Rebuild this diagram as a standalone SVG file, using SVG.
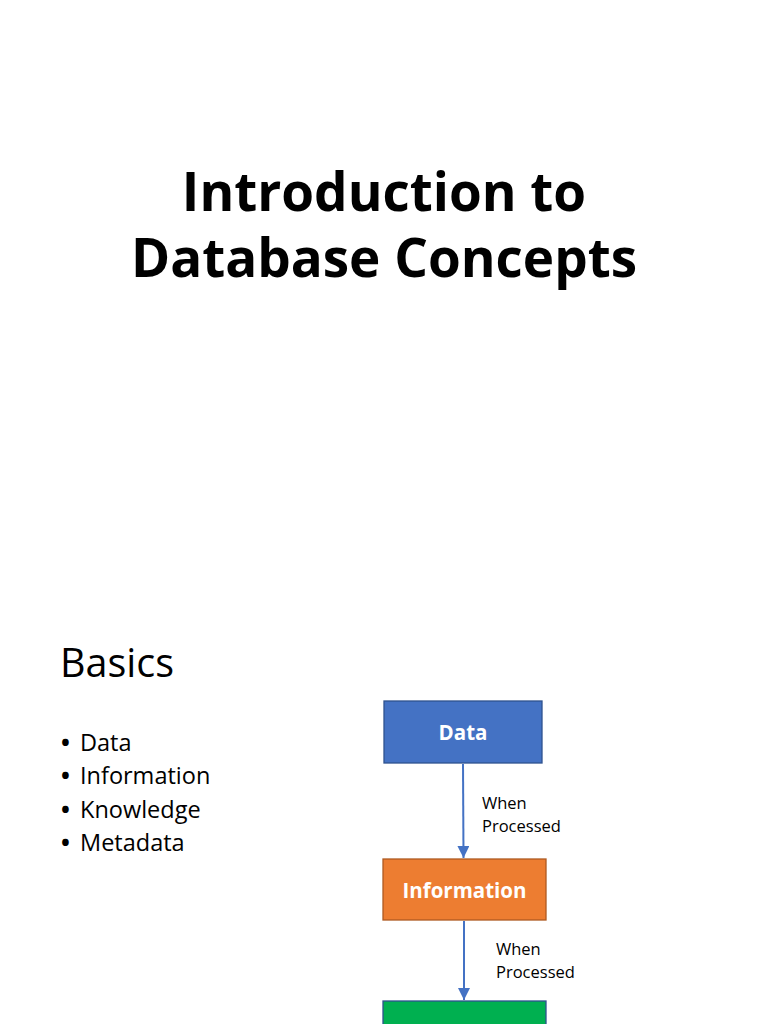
<svg xmlns="http://www.w3.org/2000/svg" width="768" height="1024" viewBox="0 0 768 1024">
<defs>
<style>
text{font-family:"Open Sans","Noto Sans",sans-serif;fill:#000}
.title{font-size:53px;font-weight:700;text-anchor:middle}
.h{font-size:39.5px}
.b{font-size:23.5px}
.dot{font-weight:700}
.nl{font-size:20.5px;font-weight:700;fill:#fff;text-anchor:middle}
.lbl{font-size:16.5px}
.conn{stroke:#4472C4;stroke-width:2;fill:none}
</style>
<marker id="ah" viewBox="0 0 10 10" refX="10" refY="5" markerWidth="14" markerHeight="12" orient="auto" markerUnits="userSpaceOnUse">
<path d="M0,0 L10,5 L0,10 z" fill="#4472C4"/>
</marker>
</defs>
<rect width="768" height="1024" fill="#fff"/>
<g id="title">
<text class="title" x="384" y="211">Introduction to</text>
<text class="title" x="384" y="277">Database Concepts</text>
</g>
<g id="basics">
<text class="h" x="60" y="677">Basics</text>
<text class="b" x="61" y="751"><tspan class="dot">•</tspan><tspan x="80">Data</tspan></text>
<text class="b" x="61" y="784"><tspan class="dot">•</tspan><tspan x="80">Information</tspan></text>
<text class="b" x="61" y="818"><tspan class="dot">•</tspan><tspan x="80">Knowledge</tspan></text>
<text class="b" x="61" y="851"><tspan class="dot">•</tspan><tspan x="80">Metadata</tspan></text>
</g>
<g id="connectors">
<line class="conn" x1="463" y1="764" x2="463.5" y2="858" marker-end="url(#ah)"/>
<line class="conn" x1="464" y1="921" x2="464" y2="1000" marker-end="url(#ah)"/>
<text class="lbl" x="482" y="809">When</text>
<text class="lbl" x="482" y="832">Processed</text>
<text class="lbl" x="496" y="955">When</text>
<text class="lbl" x="496" y="978">Processed</text>
</g>
<g id="node-data">
<rect x="384" y="701" width="158" height="62" fill="#4472C4" stroke="#2F528F" stroke-width="1.3"/>
<text class="nl" x="463" y="740">Data</text>
</g>
<g id="node-information">
<rect x="383" y="859" width="163" height="61" fill="#ED7D31" stroke="#AE5A21" stroke-width="1.3"/>
<text class="nl" x="464.5" y="898">Information</text>
</g>
<g id="node-knowledge">
<rect x="383" y="1001" width="163" height="61" fill="#00B050" stroke="#2F528F" stroke-width="1.3"/>
<text class="nl" x="464.5" y="1040">Knowledge</text>
</g>
</svg>
